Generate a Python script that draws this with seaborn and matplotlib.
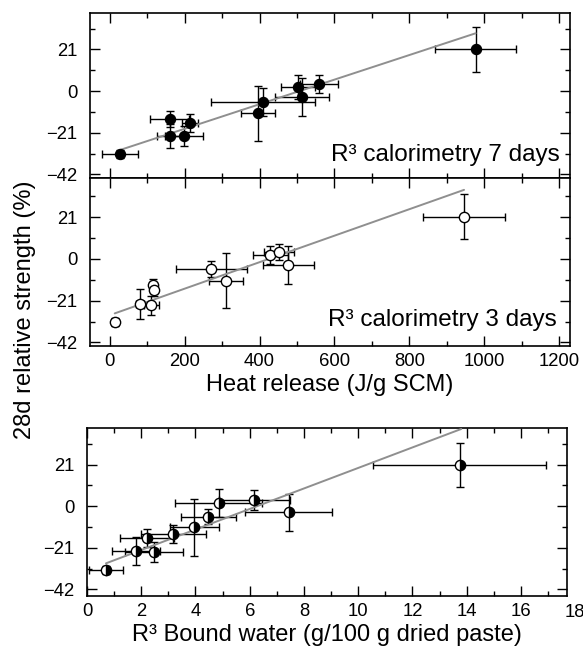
import matplotlib
matplotlib.use('Agg')
import matplotlib.pyplot as plt
import seaborn as sns
import numpy as np
from matplotlib.ticker import MultipleLocator

# ---------------- data ----------------
# R3 calorimetry 7 days (heat release J/g SCM vs 28d relative strength %)
cal7_x = [27, 160, 160, 198, 214, 396, 409, 503, 514, 559, 977]
cal7_y = [-31.9, -14.1, -22.7, -22.7, -16.0, -11.3, -5.4, 1.9, -2.9, 3.4, 21.0]
cal7_xerr = [47, 52, 33, 50, 22, 45, 138, 45, 72, 50, 109]
cal7_yerr = [2, 4, 6, 5, 4.5, 14, 7, 6, 9.7, 4.5, 11.3]
cal7_fit_x = [27, 977]
cal7_fit_y = [-29.7, 29.1]

# R3 calorimetry 3 days
cal3_x = [13, 80, 111, 115, 118, 271, 310, 429, 452, 477, 946]
cal3_y = [-31.6, -22.5, -23.4, -13.3, -15.8, -5.2, -10.9, 2.0, 3.7, -3.0, 21.3]
cal3_xerr = [8, 10, 20, 8, 8, 94, 45, 46, 40, 67, 110]
cal3_yerr = [2, 7.6, 5, 3, 3, 4, 14, 4.5, 4, 9.4, 11.3]
cal3_fit_x = [13, 946]
cal3_fit_y = [-27.4, 34.8]

# R3 bound water
bw_x = [0.70, 1.81, 2.20, 2.46, 3.18, 3.96, 4.48, 4.86, 6.17, 7.44, 13.74]
bw_y = [-32.2, -22.7, -16.2, -23.2, -14.0, -10.6, -5.2, 1.8, 3.2, -3.0, 20.8]
bw_xerr = [0.62, 0.9, 1.0, 1.07, 1.2, 0.9, 1.03, 1.6, 1.3, 1.6, 3.2]
bw_yerr = [2, 7, 4.5, 5, 4.6, 14.3, 4, 7, 5, 9.4, 11.3]
bw_fit_x = [0.70, 13.8]
bw_fit_y = [-28.8, 39.0]

y_ticks = [-42, -21, 0, 21]
heat_ticks = [0, 200, 400, 600, 800, 1000, 1200]
bw_ticks = [0, 2, 4, 6, 8, 10, 12, 14, 16, 18]

# ---------------- style ----------------
sns.set_theme(style='white')
plt.rcParams['font.family'] = ['Liberation Sans', 'DejaVu Sans']

fig = plt.figure(figsize=(5.83, 6.61), dpi=100)
ax1 = fig.add_axes([0.1544, 0.7307, 0.8233, 0.2496])
ax2 = fig.add_axes([0.1544, 0.4766, 0.8233, 0.2542])
ax3 = fig.add_axes([0.1492, 0.0983, 0.8233, 0.2542])

LINE_C = '#8f8f8f'
MS = 7.4


def base(ax, x, y, xerr, yerr, fx, fy):
    ax.errorbar(x, y, xerr=xerr, yerr=yerr, fmt='none', ecolor='black',
                elinewidth=1.0, capsize=3, capthick=1.0, zorder=2)
    sns.lineplot(x=fx, y=fy, ax=ax, color=LINE_C, lw=1.4, zorder=3)


# top panel: filled black
base(ax1, cal7_x, cal7_y, cal7_xerr, cal7_yerr, cal7_fit_x, cal7_fit_y)
sns.scatterplot(x=cal7_x, y=cal7_y, ax=ax1, color='black', s=MS**2,
                edgecolor='black', linewidth=0.8, zorder=4)

# middle panel: open circles
base(ax2, cal3_x, cal3_y, cal3_xerr, cal3_yerr, cal3_fit_x, cal3_fit_y)
sns.scatterplot(x=cal3_x, y=cal3_y, ax=ax2, color='white', s=MS**2,
                edgecolor='black', linewidth=1.0, zorder=4)

# bottom panel: half-filled circles
base(ax3, bw_x, bw_y, bw_xerr, bw_yerr, bw_fit_x, bw_fit_y)
sns.lineplot(x=bw_x, y=bw_y, ax=ax3, marker='o', linestyle='none',
             markersize=MS, fillstyle='right', markerfacecolor='black',
             markerfacecoloralt='white', markeredgecolor='black',
             markeredgewidth=1.0, estimator=None, sort=False,
             errorbar=None, zorder=4)

# ---------------- axes ----------------
for ax in (ax1, ax2, ax3):
    ax.set_yticks(y_ticks)
    ax.yaxis.set_minor_locator(MultipleLocator(10.5))
    ax.tick_params(which='both', direction='in', top=True, right=True,
                   bottom=True, left=True, color='black', labelsize=13.3,
                   labelcolor='black')
    ax.tick_params(which='major', length=7, width=1.0)
    ax.tick_params(which='minor', length=3.5, width=1.0)
    ax.tick_params(axis='y', pad=9)
    ax.tick_params(axis='x', pad=5)
    for s in ax.spines.values():
        s.set_color('black')
        s.set_linewidth(1.2)
    ax.set_xlabel('')
    ax.set_ylabel('')
    ax.set_facecolor('white')

for ax in (ax1, ax2):
    ax.set_xlim(-53, 1229)
    ax.set_xticks(heat_ticks)
    ax.xaxis.set_minor_locator(MultipleLocator(100))

ax1.set_ylim(-43.8, 39.3)
ax2.set_ylim(-43.8, 40.8)
ax3.set_ylim(-45.3, 39.5)
ax1.tick_params(labelbottom=False)

ax3.set_xlim(0, 17.7)
ax3.set_xticks(bw_ticks[:-1])
ax3.xaxis.set_minor_locator(MultipleLocator(1))
ax3.text(bw_ticks[-1], -0.045, str(bw_ticks[-1]), transform=ax3.get_xaxis_transform(),
         ha='center', va='top', fontsize=13.3, color='black', clip_on=False)

ax1.text(0.979, 0.14, 'R³ calorimetry 7 days', transform=ax1.transAxes,
         ha='right', va='center', fontsize=17.5, color='black')
ax2.text(0.973, 0.155, 'R³ calorimetry 3 days', transform=ax2.transAxes,
         ha='right', va='center', fontsize=17.5, color='black')

ax2.set_xlabel('Heat release (J/g SCM)', fontsize=17, labelpad=3, color='black')
ax3.set_xlabel('R³ Bound water (g/100 g dried paste)', fontsize=17, labelpad=3,
               color='black')
fig.text(0.043, 1 - 310 / 661, '28d relative strength (%)', rotation=90,
         ha='center', va='center', fontsize=17, color='black')

fig.savefig('out.png', dpi=100, facecolor='white')
